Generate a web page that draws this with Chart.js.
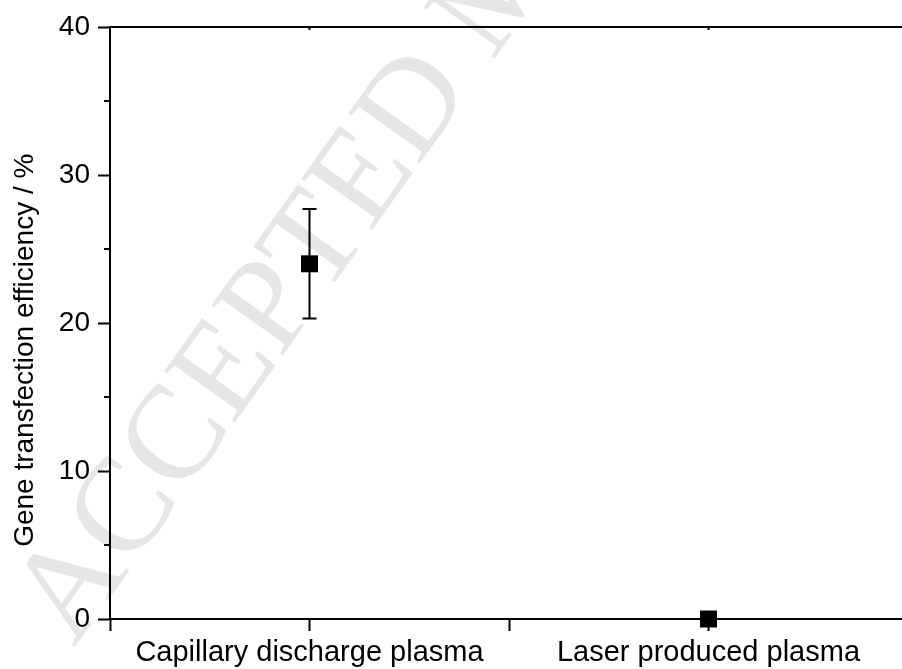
<!DOCTYPE html>
<html>
<head>
<meta charset="utf-8">
<script src="https://cdn.jsdelivr.net/npm/chart.js@4.4.1/dist/chart.umd.min.js"></script>
<style>
	html, body { margin: 0; padding: 0; background: #fff; overflow: hidden; }
	#wrap { width: 920px; height: 669px; }
</style>
</head>
<body>
<div id="wrap"><canvas id="chart"></canvas></div>
<script>
const CATEGORIES = ['Capillary discharge plasma', 'Laser produced plasma'];
const EFFICIENCY = [24.0, 0.0];
const ERRORS = [3.7, 0.0];
const Y_TICKS = [0, 10, 20, 30, 40];

const FONT = '"Liberation Sans", Arial, sans-serif';

// error bars, minor ticks, top frame and the watermark
const extras = {
	id: 'extras',
	beforeDraw(chart) {
		const ctx = chart.ctx;
		ctx.save();
		ctx.fillStyle = '#e6e6e6';
		ctx.font = '133px "Liberation Serif", "Times New Roman", serif';
		ctx.translate(74, 648);
		ctx.rotate(-54.5 * Math.PI / 180);
		ctx.fillText('ACCEPTED MANUSCRIPT', 0, 0);
		ctx.restore();
	},
	afterDatasetsDraw(chart) {
		const ctx = chart.ctx;
		const x = chart.scales.x;
		const y = chart.scales.y;
		const area = chart.chartArea;
		ctx.save();
		ctx.strokeStyle = '#000';
		ctx.lineWidth = 2;
		// error bars
		EFFICIENCY.forEach((v, i) => {
			const e = ERRORS[i];
			if (!e) return;
			const px = x.getPixelForValue(i + 1);
			const top = y.getPixelForValue(v + e);
			const bot = y.getPixelForValue(v - e);
			ctx.beginPath();
			ctx.moveTo(px, top); ctx.lineTo(px, bot);
			ctx.moveTo(px - 7, top); ctx.lineTo(px + 7, top);
			ctx.moveTo(px - 7, bot); ctx.lineTo(px + 7, bot);
			ctx.stroke();
		});
		// minor y ticks
		for (let t = 5; t < 40; t += 10) {
			const py = Math.round(y.getPixelForValue(t));
			ctx.beginPath();
			ctx.moveTo(area.left - 6, py); ctx.lineTo(area.left, py);
			ctx.stroke();
		}
		// top frame with small inward ticks
		ctx.beginPath();
		ctx.moveTo(area.left, area.top); ctx.lineTo(area.right, area.top);
		ctx.moveTo(area.right, area.top); ctx.lineTo(area.right, area.bottom);
		[1, 2].forEach(v => {
			const px = x.getPixelForValue(v);
			ctx.moveTo(px, area.top); ctx.lineTo(px, area.top + 3);
		});
		ctx.stroke();
		ctx.restore();
	}
};

new Chart(document.getElementById('chart'), {
	type: 'scatter',
	data: {
		datasets: [
			{
				label: 'Gene transfection efficiency',
				data: EFFICIENCY.map((v, i) => ({ x: i + 1, y: v })),
				pointStyle: 'rect',
				pointRadius: 12,
				pointHoverRadius: 12,
				backgroundColor: '#000',
				borderColor: '#000',
				borderWidth: 0,
				clip: false,
			},
		],
	},
	plugins: [extras],
	options: {
		responsive: true,
		maintainAspectRatio: false,
		animation: false,
		layout: { padding: { top: 27, right: 10, left: 0, bottom: 0 } },
		plugins: { legend: { display: false }, tooltip: { enabled: false } },
		scales: {
			x: {
				type: 'linear',
				min: 0.5,
				max: 2.5,
				afterBuildTicks: (scale) => {
					scale.ticks = [0.5, 1, 1.5, 2, 2.5].map(v => ({ value: v }));
				},
				afterFit: (scale) => { scale.height = 50; },
				border: { color: '#000', width: 2 },
				grid: { drawOnChartArea: false, tickLength: 12, tickColor: '#000', tickWidth: 2 },
				ticks: {
					color: '#000',
					font: { family: FONT, size: 29 },
					padding: 5,
					maxRotation: 0,
					autoSkip: false,
					callback: (v) => (Number.isInteger(v) ? CATEGORIES[v - 1] : ''),
				},
			},
			y: {
				min: 0,
				max: 40,
				afterBuildTicks: (scale) => {
					scale.ticks = Y_TICKS.map(v => ({ value: v }));
				},
				afterFit: (scale) => { scale.width = 110; },
				border: { color: '#000', width: 2 },
				grid: { drawOnChartArea: false, tickLength: 12, tickColor: '#000', tickWidth: 2 },
				ticks: {
					color: '#000',
					font: { family: FONT, size: 28 },
					padding: 8,
				},
				title: {
					display: true,
					// trailing spaces nudge the label down like in the original
					text: 'Gene transfection efficiency / %       ',
					color: '#000',
					font: { family: FONT, size: 28 },
					padding: { top: 8, bottom: 0 },
				},
			},
		},
	},
});
</script>
</body>
</html>
